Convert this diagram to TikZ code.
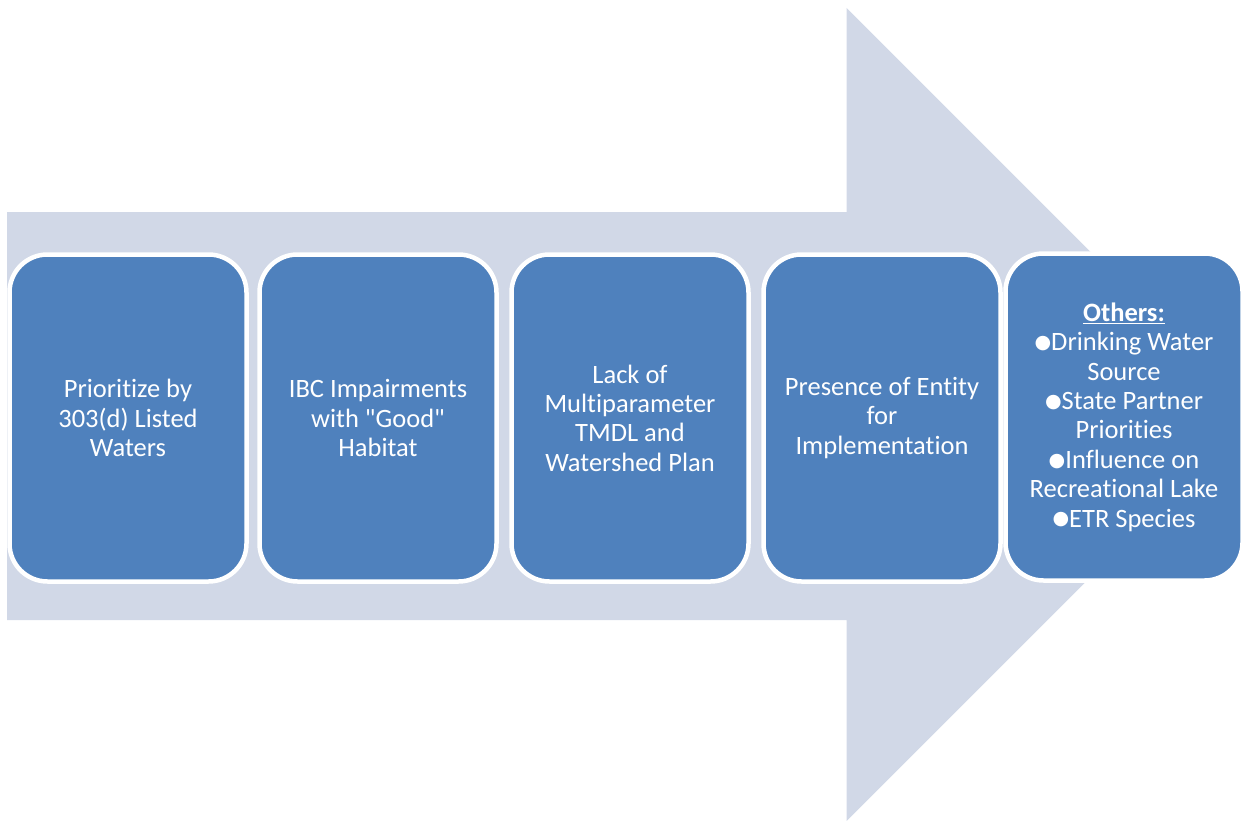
\documentclass[tikz,border=0pt]{standalone}
\usepackage{fontspec}
\setmainfont[Ligatures={TeXOff,NoCommon}]{Carlito}
\newfontfamily\bulletfont{DejaVu Sans}
\definecolor{arrowfill}{HTML}{D1D8E7}
\definecolor{boxfill}{HTML}{4F81BD}
\newcommand{\bul}{{\bulletfont\raisebox{0.08em}{\scalebox{0.72}{●}}}}
\begin{document}
\begin{tikzpicture}[x=1pt,y=-1pt,
  stagebox/.style={draw=white, line width=4.5pt, fill=boxfill, rounded corners=38pt,
    minimum width=237pt, minimum height=327pt, inner sep=0pt,
    text=white, align=center, font=\fontsize{26.5}{29.4}\selectfont}]
\useasboundingbox (0,0) rectangle (1244,821);
\begin{scope}
\clip (0,0) rectangle (1244,821);
\fill[arrowfill] (7,212) -- (846.5,212) -- (846.5,8) -- (1253,414.5) -- (846.5,821) -- (846.5,620) -- (7,620) -- cycle;
\end{scope}
\node[stagebox] (b1) at (128,418) {Prioritize by\\303(d) Listed\\Waters};
\node[stagebox] (b2) at (378,418) {IBC Impairments\\with "Good"\\Habitat};
\node[stagebox] (b3) at (630,418) {Lack of\\Multiparameter\\TMDL and\\Watershed Plan};
\node[stagebox] (b4) at (882,418) {Presence of Entity\\for\\Implementation};
\node[stagebox] (b5) at (1124,417) {\underline{\textbf{Others:}}\\\bul Drinking Water\\Source\\\bul State Partner\\Priorities\\\bul Influence on\\Recreational Lake\\\bul ETR Species};
\end{tikzpicture}
\end{document}
